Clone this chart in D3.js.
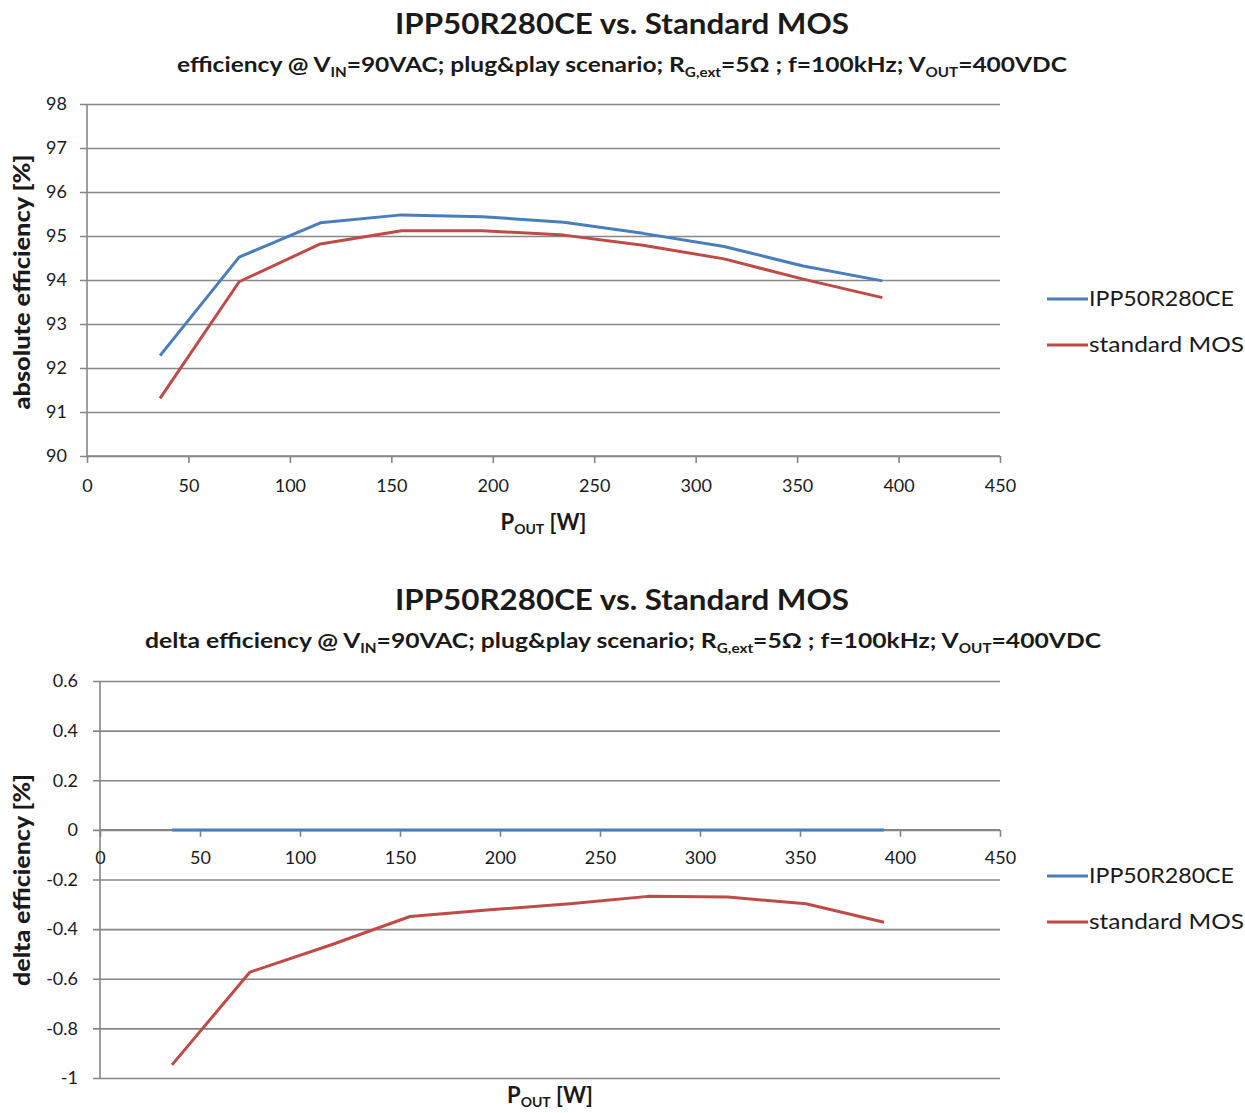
<!DOCTYPE html>
<html><head><meta charset="utf-8">
<script src="https://cdn.jsdelivr.net/npm/d3@7"></script>
<style>body{margin:0;background:#fff}svg{display:block}text{font-family:Lato,"Open Sans",sans-serif;fill:#1a1a1a}</style>
</head><body>
<script>
const pout = [36, 75, 115, 155, 195, 235, 274, 314, 353, 392];
const absIPP = [92.28, 94.52, 95.30, 95.48, 95.44, 95.31, 95.06, 94.76, 94.32, 93.98];
const absStd = [91.31, 93.96, 94.82, 95.12, 95.12, 95.02, 94.79, 94.48, 94.02, 93.60];
const deltaIPP = [0, 0, 0, 0, 0, 0, 0, 0, 0, 0];
const deltaStd = [-0.947, -0.573, -0.465, -0.349, -0.322, -0.298, -0.268, -0.271, -0.298, -0.372];
const xTicks = [0, 50, 100, 150, 200, 250, 300, 350, 400, 450];
const absTicks = [90, 91, 92, 93, 94, 95, 96, 97, 98];
const deltaTicks = [-1, -0.8, -0.6, -0.4, -0.2, 0, 0.2, 0.4, 0.6];
const seriesNames = ["IPP50R280CE", "standard MOS"];
const colors = ["#4a7ebb", "#be4b48"];

const svg = d3.select("body").append("svg").attr("width", 1245).attr("height", 1113);
const AX = "#868686";

function title(y, main, subPrefix, subLen, x0) {
  svg.append("text").attr("x", 622).attr("y", y).attr("text-anchor", "middle")
    .attr("font-size", 28).attr("font-weight", "bold").attr("textLength", 454).attr("lengthAdjust", "spacingAndGlyphs").text(main);
  const t = svg.append("text").attr("x", x0).attr("y", y + 38).attr("font-size", 21).attr("font-weight", "bold")
    .attr("textLength", subLen).attr("lengthAdjust", "spacingAndGlyphs");
  const parts = [[subPrefix + " V", 0], ["IN", 1], ["=90VAC;  plug&play scenario; R", 0], ["G,ext", 1], ["=5Ω ; f=100kHz; V", 0], ["OUT", 1], ["=400VDC", 0]];
  parts.forEach(([s, sub], i) => {
    const ts = t.append("tspan").text(s);
    if (sub) ts.attr("font-size", 13).attr("dy", 5);
    else ts.attr("dy", i > 0 ? -5 : 0);
  });
}

function chart(cfg) {
  const { x0, x1, y0, y1, yDomain, yTicks, yFmt, s1, s2, xAxisAt, yTitle, xTitleY, legendY } = cfg;
  const x = d3.scaleLinear().domain([0, 450]).range([x0, x1]);
  const y = d3.scaleLinear().domain(yDomain).range([y1, y0]);
  const w = x1 - x0;
  const g = svg.append("g");
  const ya = g.append("g").attr("transform", `translate(${x0},0)`)
    .call(d3.axisLeft(y).tickValues(yTicks).tickSize(-w).tickFormat(yFmt));
  ya.select(".domain").remove();
  ya.selectAll(".tick line").attr("x1", -7).attr("stroke", AX).attr("stroke-width", 1.6);
  ya.selectAll(".tick text").attr("x", cfg.yLabelX).attr("font-size", 18).attr("font-family", "Lato, sans-serif").attr("fill", "#1a1a1a");
  g.append("line").attr("x1", x0).attr("x2", x0).attr("y1", y0).attr("y2", y1).attr("stroke", AX).attr("stroke-width", 1.6);
  const xa = g.append("g").attr("transform", `translate(0,${y(xAxisAt)})`)
    .call(d3.axisBottom(x).tickValues(xTicks).tickSize(7).tickPadding(cfg.xPad).tickFormat(d => String(d)));
  xa.select(".domain").attr("stroke", AX).attr("stroke-width", 1.6).attr("d", `M${x0},0H${x1}`);
  xa.selectAll(".tick line").attr("stroke", AX).attr("stroke-width", 1.6);
  xa.selectAll(".tick text").attr("font-size", 18).attr("font-family", "Lato, sans-serif").attr("fill", "#1a1a1a");
  const line = d3.line().x((d, i) => x(pout[i])).y(d => y(d));
  [s1, s2].forEach((s, k) => {
    g.append("path").datum(s).attr("d", line).attr("fill", "none").attr("stroke", colors[k])
      .attr("stroke-width", 3).attr("stroke-linejoin", "round");
  });
  g.append("text").attr("transform", `translate(30,${cfg.yTitleC}) rotate(-90)`).attr("text-anchor", "middle")
    .attr("font-size", 22).attr("font-weight", 900).attr("textLength", cfg.yTitleLen).attr("lengthAdjust", "spacingAndGlyphs").text(yTitle);
  const xt = g.append("text").attr("x", (x0 + x1) / 2 + cfg.xTitleDx).attr("y", xTitleY).attr("text-anchor", "middle")
    .attr("font-size", 22).attr("font-weight", "bold");
  xt.append("tspan").text("P");
  xt.append("tspan").text("OUT").attr("font-size", 14).attr("dy", 4);
  xt.append("tspan").text(" [W]").attr("dy", -4);
  seriesNames.forEach((n, k) => {
    const ly = legendY + k * 46;
    g.append("line").attr("x1", 1047).attr("x2", 1088).attr("y1", ly).attr("y2", ly).attr("stroke", colors[k]).attr("stroke-width", 3);
    g.append("text").attr("x", 1089).attr("y", ly + 7).attr("font-size", 21).attr("textLength", k ? 155 : 145)
      .attr("lengthAdjust", "spacingAndGlyphs").text(n);
  });
}

title(34, "IPP50R280CE vs. Standard MOS", "efficiency @", 890, 177);
chart({ x0: 87, x1: 1000, y0: 104, y1: 456, yDomain: [90, 98], yTicks: absTicks, yFmt: d => String(d),
  s1: absIPP, s2: absStd, xAxisAt: 90, yTitle: "absolute efficiency [%]", xTitleY: 530, xTitleDx: 0,
  legendY: 299, yLabelX: -20, xPad: 16, yTitleC: 282, yTitleLen: 255 });

title(610, "IPP50R280CE vs. Standard MOS", "delta efficiency  @", 956, 145);
chart({ x0: 100, x1: 1000, y0: 681, y1: 1078, yDomain: [-1, 0.6], yTicks: deltaTicks, yFmt: d => String(+d.toFixed(1)),
  s1: deltaIPP, s2: deltaStd, xAxisAt: 0, yTitle: "delta efficiency  [%]", xTitleY: 1103, xTitleDx: 0,
  legendY: 876, yLabelX: -22, xPad: 14, yTitleC: 880, yTitleLen: 212 });
</script>
</body></html>
